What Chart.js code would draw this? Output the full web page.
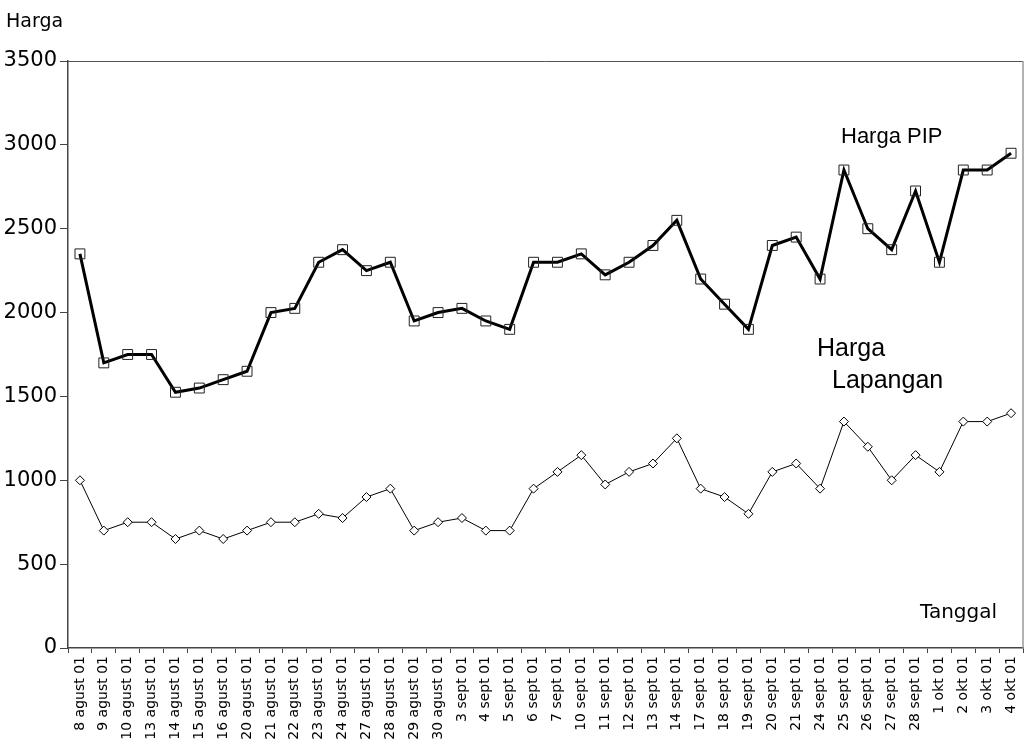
<!DOCTYPE html>
<html>
<head>
<meta charset="utf-8">
<title>Harga PIP dan Harga Lapangan</title>
<script src="https://cdn.jsdelivr.net/npm/chart.js@4.4.1/dist/chart.umd.min.js"></script>
<style>
    html, body { margin: 0; padding: 0; background: #fff; }
    #wrap { width: 1036px; height: 753px; position: relative; }
</style>
</head>
<body>
<div id="wrap"><canvas id="myChart"></canvas></div>
<script>
// Tanggal (categories)
const tanggal = [
    '8 agust 01', '9 agust 01', '10 agust 01', '13 agust 01', '14 agust 01', '15 agust 01',
    '16 agust 01', '20 agust 01', '21 agust 01', '22 agust 01', '23 agust 01', '24 agust 01',
    '27 agust 01', '28 agust 01', '29 agust 01', '30 agust 01',
    '3 sept 01', '4 sept 01', '5 sept 01', '6 sept 01', '7 sept 01', '10 sept 01',
    '11 sept 01', '12 sept 01', '13 sept 01', '14 sept 01', '17 sept 01', '18 sept 01',
    '19 sept 01', '20 sept 01', '21 sept 01', '24 sept 01', '25 sept 01', '26 sept 01',
    '27 sept 01', '28 sept 01',
    '1 okt 01', '2 okt 01', '3 okt 01', '4 okt 01'
];

// Harga PIP
const hargaPIP = [
    2350, 1700, 1750, 1750, 1525, 1550, 1600, 1650, 2000, 2025, 2300, 2375,
    2250, 2300, 1950, 2000, 2025, 1950, 1900, 2300, 2300, 2350, 2225, 2300,
    2400, 2550, 2200, 2050, 1900, 2400, 2450, 2200, 2850, 2500, 2375, 2725,
    2300, 2850, 2850, 2950
];

// Harga Lapangan
const hargaLapangan = [
    1000, 700, 750, 750, 650, 700, 650, 700, 750, 750, 800, 775,
    900, 950, 700, 750, 775, 700, 700, 950, 1050, 1150, 975, 1050,
    1100, 1250, 950, 900, 800, 1050, 1100, 950, 1350, 1200, 1000, 1150,
    1050, 1350, 1350, 1400
];

// y axis ticks
const yMin = 0;
const yMax = 3500;
const yStep = 500;

// free text on the chart
const notes = [
    { text: 'Harga', x: 6, y: 27, font: '19px "DejaVu Sans"' },
    { text: 'Harga PIP', x: 841, y: 143, font: '22px "Liberation Sans"' },
    { text: 'Harga', x: 817, y: 356, font: '25px "Liberation Sans"' },
    { text: 'Lapangan', x: 832, y: 388, font: '25px "Liberation Sans"' },
    { text: 'Tanggal', x: 920, y: 618, font: '20px "DejaVu Sans"' }
];

const frame = {
    id: 'frame',
    beforeDatasetsDraw(chart) {
        const a = chart.chartArea;
        const ctx = chart.ctx;
        ctx.save();
        ctx.lineWidth = 1;
        ctx.strokeStyle = '#555';
        ctx.beginPath();
        ctx.moveTo(a.left, a.top + 0.5);
        ctx.lineTo(a.right, a.top + 0.5);
        ctx.stroke();
        ctx.strokeStyle = '#999';
        ctx.lineWidth = 1.5;
        ctx.beginPath();
        ctx.moveTo(a.right, a.top);
        ctx.lineTo(a.right, a.bottom);
        ctx.stroke();
        ctx.restore();
    },
    afterDraw(chart) {
        const ctx = chart.ctx;
        ctx.save();
        ctx.fillStyle = '#000';
        ctx.textBaseline = 'alphabetic';
        ctx.textAlign = 'left';
        notes.forEach(n => {
            ctx.font = n.font;
            ctx.fillText(n.text, n.x, n.y);
        });
        ctx.restore();
    }
};

const ctx = document.getElementById('myChart').getContext('2d');
new Chart(ctx, {
    type: 'line',
    data: {
        labels: tanggal,
        datasets: [{
            label: 'Harga PIP',
            data: hargaPIP,
            borderColor: '#000',
            borderWidth: 3,
            tension: 0,
            pointStyle: 'rect',
            pointRadius: 7,
            pointBorderWidth: 1,
            pointBorderColor: '#222',
            pointBackgroundColor: 'rgba(255,255,255,0)'
        }, {
            label: 'Harga Lapangan',
            data: hargaLapangan,
            borderColor: '#000',
            borderWidth: 1,
            tension: 0,
            pointStyle: 'rectRot',
            pointRadius: 4.5,
            pointBorderWidth: 1,
            pointBorderColor: '#000',
            pointBackgroundColor: '#fff'
        }]
    },
    options: {
        responsive: true,
        maintainAspectRatio: false,
        animation: false,
        layout: {
            padding: { top: 61, right: 13, left: 0, bottom: 0 }
        },
        scales: {
            x: {
                offset: true,
                grid: {
                    offset: true,
                    drawOnChartArea: false,
                    tickLength: 5,
                    color: '#444'
                },
                border: { color: '#444', width: 1.5 },
                ticks: {
                    autoSkip: false,
                    minRotation: 90,
                    maxRotation: 90,
                    padding: 3,
                    color: '#000',
                    font: { family: 'DejaVu Sans', size: 14 }
                },
                afterFit: function (scale) { scale.height = 105; }
            },
            y: {
                min: yMin,
                max: yMax,
                grid: {
                    drawOnChartArea: false,
                    tickLength: 8,
                    color: '#444'
                },
                border: { color: '#444', width: 1.5 },
                ticks: {
                    stepSize: yStep,
                    padding: 3,
                    color: '#000',
                    font: { family: 'DejaVu Sans', size: 21 },
                    callback: function (value) { return String(value); }
                },
                afterFit: function (scale) { scale.width = 68; }
            }
        },
        plugins: {
            legend: { display: false },
            tooltip: { enabled: false }
        }
    },
    plugins: [frame]
});
</script>
</body>
</html>
